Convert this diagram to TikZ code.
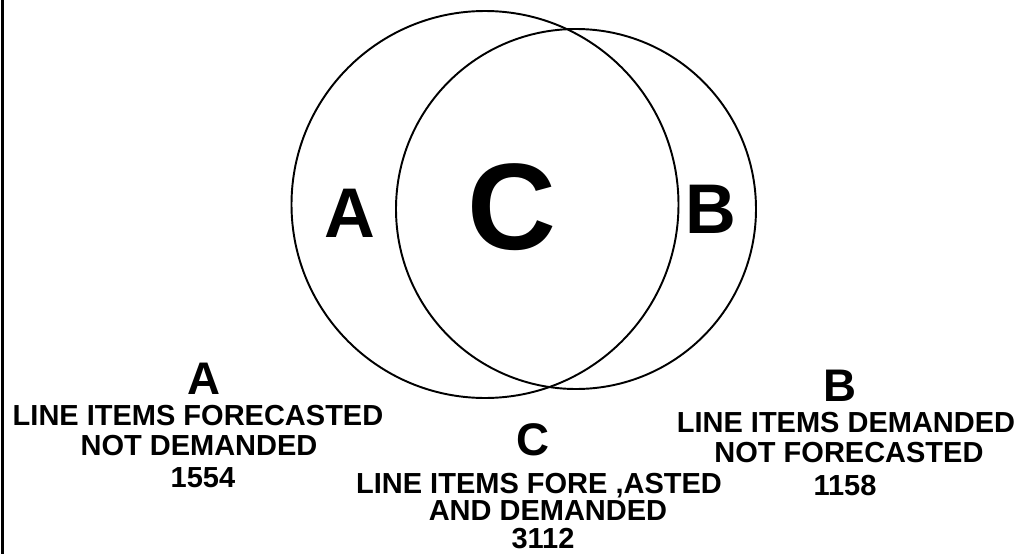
\documentclass[tikz,border=0pt]{standalone}
\usepackage{fontspec}
\setmainfont{Liberation Sans}
\usepackage{tikz}

\begin{document}
\begin{tikzpicture}[
  setletter/.style={font=\fontsize{40}{40}\selectfont\bfseries, inner sep=0pt},
  keyletter/.style={font=\fontsize{26}{26}\selectfont\bfseries, inner sep=0pt},
  keytext/.style={font=\fontsize{16.5}{16.5}\selectfont\bfseries, inner sep=0pt, text depth=0pt}]
\useasboundingbox (0,0) rectangle (20.48,-11.08);
% frame edge on the left
\draw[line width=1.8pt] (0.056,0) -- (0.056,-11.08);
% the two sets
\draw[line width=1.1pt] (9.70,-4.09) circle (3.87);
\draw[line width=1.1pt] (11.52,-4.18) circle (3.60);
\node[setletter] (inA) at (7.00,-4.26) {A};
\node[setletter, font=\fontsize{70}{70}\selectfont\bfseries] (inC) at (10.24,-4.14) {C};
\node[setletter] (inB) at (14.22,-4.18) {B};
% key A
\node[keyletter] (keyA) at (4.08,-7.58) {A};
\node[keytext] (keyAone) at (3.96,-8.30) {LINE ITEMS FORECASTED};
\node[keytext] (keyAtwo) at (3.98,-8.90) {NOT DEMANDED};
\node[keytext] (keyAnum) at (4.06,-9.56) {1554};
% key C
\node[keyletter] (keyC) at (10.66,-8.80) {C};
\node[keytext] (keyCone) at (10.78,-9.66) {LINE ITEMS FORE ,ASTED};
\node[keytext] (keyCtwo) at (10.96,-10.21) {AND DEMANDED};
\node[keytext] (keyCnum) at (10.86,-10.76) {3112};
% key B
\node[keyletter] (keyB) at (16.80,-7.72) {B};
\node[keytext] (keyBone) at (16.92,-8.44) {LINE ITEMS DEMANDED};
\node[keytext] (keyBtwo) at (16.98,-9.04) {NOT FORECASTED};
\node[keytext] (keyBnum) at (16.90,-9.70) {1158};
\end{tikzpicture}
\end{document}
